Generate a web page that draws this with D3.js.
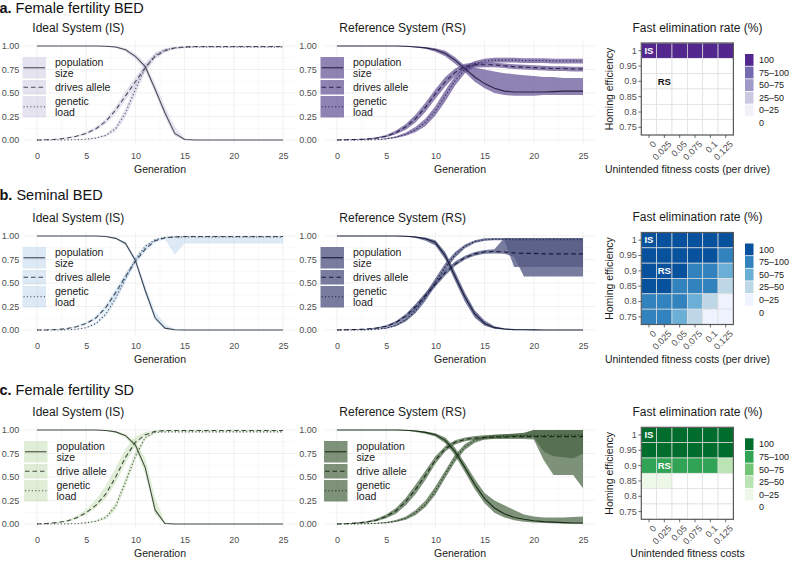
<!DOCTYPE html>
<html><head><meta charset="utf-8">
<script src="https://cdn.jsdelivr.net/npm/d3@7"></script>
<style>
body{margin:0;background:#fff}
svg{display:block}
text{font-family:"Liberation Sans",Arial,Helvetica,sans-serif}
</style>
</head><body>
<svg id="chart" width="794" height="568"></svg>
<script>
// ---------------- DATA ----------------
const generations = [0,1,2,3,4,5,6,7,8,9,10,11,12,13,14,15,16,17,18,19,20,21,22,23,24,25];
const xTicks = [0,5,10,15,20,25];
const yTicks = [0,0.25,0.5,0.75,1];

// a. Female fertility BED - Ideal System
const aIS_pop     = [1,1,1,1,1,1,1,0.998,0.99,0.96,0.89,0.78,0.54,0.29,0.07,0.005,0,0,0,0,0,0,0,0,0,0];
const aIS_pop_lo  = [1,1,1,1,1,1,1,0.995,0.98,0.94,0.86,0.74,0.50,0.24,0.04,0,0,0,0,0,0,0,0,0,0,0];
const aIS_pop_hi  = [1,1,1,1,1,1,1,1,1,0.98,0.92,0.82,0.60,0.36,0.14,0.02,0,0,0,0,0,0,0,0,0,0];
const aIS_drive    = [0,0.003,0.008,0.02,0.04,0.07,0.12,0.2,0.32,0.47,0.62,0.77,0.89,0.95,0.98,0.99,0.995,0.995,0.995,0.995,0.995,0.995,0.995,0.995,0.995,0.995];
const aIS_drive_lo = [0,0,0.004,0.012,0.03,0.055,0.1,0.17,0.28,0.42,0.57,0.73,0.86,0.93,0.965,0.98,0.985,0.985,0.985,0.985,0.985,0.985,0.985,0.985,0.985,0.985];
const aIS_drive_hi = [0,0.006,0.012,0.028,0.05,0.085,0.14,0.23,0.36,0.52,0.67,0.81,0.92,0.97,0.99,0.998,1,1,1,1,1,1,1,1,1,1];
const aIS_load    = [0,0,0,0.001,0.003,0.008,0.02,0.05,0.12,0.29,0.54,0.77,0.9,0.96,0.98,0.985,0.99,0.99,0.99,0.99,0.99,0.99,0.99,0.99,0.99,0.99];
const aIS_load_lo = [0,0,0,0,0.001,0.004,0.013,0.035,0.09,0.24,0.48,0.72,0.87,0.94,0.97,0.978,0.982,0.982,0.982,0.982,0.982,0.982,0.982,0.982,0.982,0.982];
const aIS_load_hi = [0,0,0,0.002,0.005,0.012,0.028,0.065,0.15,0.34,0.6,0.82,0.93,0.975,0.99,0.995,0.997,0.997,0.997,0.997,0.997,0.997,0.997,0.997,0.997,0.997];

// a. Female fertility BED - Reference System
const aRS_pop     = [1,1,1,1,1,1,1,0.998,0.99,0.98,0.96,0.92,0.85,0.76,0.67,0.6,0.55,0.52,0.51,0.51,0.51,0.51,0.515,0.52,0.52,0.52];
const aRS_pop_lo  = [1,1,1,1,1,1,1,0.995,0.985,0.97,0.94,0.89,0.81,0.72,0.62,0.55,0.5,0.48,0.47,0.47,0.47,0.48,0.48,0.48,0.48,0.48];
const aRS_pop_hi  = [1,1,1,1,1,1,1,1,0.995,0.99,0.975,0.95,0.88,0.79,0.77,0.75,0.73,0.71,0.7,0.69,0.68,0.67,0.67,0.66,0.66,0.66];
const aRS_drive    = [0,0.002,0.005,0.01,0.02,0.04,0.08,0.14,0.23,0.35,0.49,0.62,0.72,0.78,0.8,0.8,0.8,0.79,0.78,0.775,0.77,0.765,0.76,0.76,0.755,0.755];
const aRS_drive_lo = [0,0,0.002,0.005,0.012,0.028,0.06,0.11,0.19,0.3,0.44,0.57,0.68,0.75,0.77,0.775,0.775,0.765,0.755,0.75,0.745,0.74,0.735,0.735,0.73,0.73];
const aRS_drive_hi = [0,0.004,0.008,0.015,0.028,0.052,0.1,0.17,0.27,0.4,0.54,0.67,0.76,0.81,0.825,0.825,0.825,0.815,0.805,0.8,0.795,0.79,0.785,0.785,0.78,0.78];
const aRS_load    = [0,0,0,0.001,0.004,0.012,0.03,0.06,0.11,0.19,0.31,0.47,0.63,0.75,0.81,0.84,0.85,0.85,0.85,0.845,0.845,0.845,0.84,0.84,0.84,0.84];
const aRS_load_lo = [0,0,0,0,0.002,0.007,0.02,0.045,0.085,0.15,0.26,0.41,0.58,0.71,0.78,0.815,0.825,0.825,0.825,0.82,0.82,0.82,0.815,0.815,0.815,0.815];
const aRS_load_hi = [0,0,0,0.002,0.006,0.018,0.04,0.08,0.14,0.23,0.36,0.53,0.68,0.79,0.84,0.865,0.875,0.875,0.875,0.87,0.87,0.87,0.865,0.865,0.865,0.865];

// b. Seminal BED - Ideal System
const bIS_pop     = [1,1,1,1,1,1,1,0.995,0.975,0.92,0.74,0.42,0.13,0.02,0.003,0,0,0,0,0,0,0,0,0,0,0];
const bIS_pop_lo  = [1,1,1,1,1,1,1,0.99,0.965,0.9,0.71,0.38,0.1,0.01,0,0,0,0,0,0,0,0,0,0,0,0];
const bIS_pop_hi  = [1,1,1,1,1,1,1,1,0.985,0.94,0.77,0.47,0.2,0.06,0.01,0,0,0,0,0,0,0,0,0,0,0];
const bIS_drive    = [0,0.001,0.005,0.015,0.035,0.07,0.13,0.24,0.4,0.57,0.73,0.86,0.95,0.98,0.99,0.995,0.995,0.995,0.995,0.995,0.995,0.995,0.995,0.995,0.995,0.995];
const bIS_drive_lo = [0,0,0.002,0.01,0.025,0.055,0.11,0.21,0.36,0.53,0.7,0.83,0.93,0.965,0.8,0.92,0.92,0.92,0.92,0.92,0.92,0.92,0.92,0.92,0.92,0.92];
const bIS_drive_hi = [0,0.003,0.008,0.02,0.045,0.085,0.15,0.27,0.44,0.61,0.76,0.88,0.96,0.99,1,1,1,1,1,1,1,1,1,1,1,1];
const bIS_load    = [0,0,0,0.002,0.008,0.025,0.07,0.17,0.34,0.55,0.75,0.89,0.96,0.985,0.99,0.99,0.99,0.99,0.99,0.99,0.99,0.99,0.99,0.99,0.99,0.99];
const bIS_load_lo = [0,0,0,0.001,0.005,0.018,0.055,0.14,0.3,0.51,0.72,0.87,0.95,0.975,0.985,0.985,0.985,0.985,0.985,0.985,0.985,0.985,0.985,0.985,0.985,0.985];
const bIS_load_hi = [0,0,0,0.003,0.011,0.032,0.085,0.2,0.38,0.59,0.78,0.91,0.97,0.99,0.995,0.995,0.995,0.995,0.995,0.995,0.995,0.995,0.995,0.995,0.995,0.995];

// b. Seminal BED - Reference System
const bRS_pop     = [1,1,1,1,1,1,1,0.998,0.99,0.97,0.93,0.79,0.57,0.35,0.17,0.07,0.025,0.01,0.004,0.002,0.001,0,0,0,0,0];
const bRS_pop_lo  = [1,1,1,1,1,1,1,0.995,0.98,0.95,0.9,0.75,0.52,0.3,0.13,0.045,0.012,0.004,0,0,0,0,0,0,0,0];
const bRS_pop_hi  = [1,1,1,1,1,1,1,1,0.995,0.985,0.955,0.83,0.62,0.4,0.21,0.1,0.04,0.018,0.008,0.004,0.002,0.001,0,0,0,0];
const bRS_drive    = [0,0.002,0.005,0.01,0.02,0.04,0.08,0.15,0.25,0.37,0.49,0.61,0.7,0.77,0.81,0.83,0.835,0.83,0.82,0.815,0.815,0.81,0.81,0.81,0.81,0.81];
const bRS_drive_lo = [0,0,0.002,0.006,0.014,0.03,0.065,0.13,0.22,0.34,0.46,0.58,0.68,0.75,0.79,0.81,0.815,0.81,0.78,0.57,0.57,0.57,0.57,0.57,0.57,0.57];
const bRS_drive_hi = [0,0.004,0.008,0.014,0.026,0.05,0.095,0.17,0.28,0.4,0.52,0.64,0.73,0.79,0.83,0.85,0.86,0.98,0.98,0.98,0.98,0.98,0.98,0.98,0.98,0.98];
const bRS_load    = [0,0,0,0.002,0.006,0.02,0.05,0.11,0.21,0.35,0.51,0.67,0.8,0.89,0.94,0.96,0.965,0.965,0.96,0.96,0.96,0.96,0.96,0.96,0.96,0.96];
const bRS_load_lo = [0,0,0,0.001,0.004,0.014,0.04,0.09,0.18,0.31,0.47,0.63,0.77,0.87,0.925,0.95,0.955,0.955,0.67,0.67,0.67,0.67,0.67,0.67,0.67,0.67];
const bRS_load_hi = [0,0,0,0.003,0.008,0.026,0.06,0.13,0.24,0.39,0.55,0.71,0.83,0.91,0.955,0.975,0.98,0.98,0.98,0.98,0.98,0.98,0.98,0.98,0.98,0.98];

// c. Female fertility SD - Ideal System
const cIS_pop     = [1,1,1,1,1,1,1,0.995,0.98,0.94,0.84,0.6,0.15,0.005,0,0,0,0,0,0,0,0,0,0,0,0];
const cIS_pop_lo  = [1,1,1,1,1,1,1,0.99,0.97,0.92,0.8,0.53,0.1,0,0,0,0,0,0,0,0,0,0,0,0,0];
const cIS_pop_hi  = [1,1,1,1,1,1,1,1,0.99,0.96,0.88,0.7,0.28,0.02,0,0,0,0,0,0,0,0,0,0,0,0];
const cIS_drive    = [0,0.005,0.015,0.03,0.065,0.12,0.2,0.32,0.5,0.71,0.87,0.95,0.985,0.995,0.995,0.995,0.995,0.995,0.995,0.995,0.995,0.995,0.995,0.995,0.995,0.995];
const cIS_drive_lo = [0,0.002,0.009,0.022,0.05,0.1,0.17,0.27,0.44,0.65,0.83,0.935,0.978,0.99,0.99,0.99,0.99,0.99,0.99,0.99,0.99,0.99,0.99,0.99,0.99,0.99];
const cIS_drive_hi = [0,0.008,0.02,0.04,0.085,0.155,0.26,0.41,0.6,0.8,0.93,0.98,0.995,1,1,1,1,1,1,1,1,1,1,1,1,1];
const cIS_load    = [0,0,0,0.001,0.004,0.012,0.03,0.07,0.19,0.45,0.72,0.92,0.975,0.98,0.98,0.98,0.98,0.98,0.98,0.98,0.98,0.98,0.98,0.98,0.98,0.98];
const cIS_load_lo = [0,0,0,0,0.002,0.007,0.02,0.05,0.15,0.4,0.68,0.9,0.968,0.975,0.975,0.975,0.975,0.975,0.975,0.975,0.975,0.975,0.975,0.975,0.975,0.975];
const cIS_load_hi = [0,0,0,0.002,0.006,0.018,0.04,0.09,0.23,0.5,0.77,0.94,0.982,0.988,0.988,0.988,0.988,0.988,0.988,0.988,0.988,0.988,0.988,0.988,0.988,0.988];

// c. Female fertility SD - Reference System
const cRS_pop     = [1,1,1,1,1,1,1,0.998,0.99,0.975,0.95,0.89,0.77,0.6,0.42,0.27,0.17,0.11,0.07,0.05,0.035,0.025,0.02,0.015,0.01,0.01];
const cRS_pop_lo  = [1,1,1,1,1,1,1,0.995,0.98,0.96,0.93,0.86,0.73,0.55,0.37,0.22,0.12,0.07,0.04,0.025,0.015,0.01,0.008,0.005,0.003,0.002];
const cRS_pop_hi  = [1,1,1,1,1,1,1,1,0.995,0.985,0.965,0.92,0.81,0.65,0.48,0.33,0.25,0.2,0.15,0.1,0.08,0.07,0.07,0.07,0.075,0.08];
const cRS_drive    = [0,0.003,0.01,0.02,0.04,0.08,0.14,0.24,0.37,0.52,0.68,0.8,0.87,0.9,0.915,0.92,0.925,0.925,0.93,0.93,0.93,0.93,0.93,0.93,0.93,0.93];
const cRS_drive_lo = [0,0,0.005,0.012,0.028,0.06,0.11,0.2,0.32,0.47,0.64,0.77,0.845,0.88,0.895,0.9,0.905,0.905,0.905,0.905,0.9,0.68,0.52,0.52,0.52,0.38];
const cRS_drive_hi = [0,0.006,0.015,0.03,0.055,0.1,0.17,0.28,0.42,0.57,0.72,0.83,0.89,0.92,0.935,0.945,0.95,0.955,0.96,0.97,1,1,1,1,1,1];
const cRS_load    = [0,0,0.001,0.003,0.007,0.015,0.03,0.06,0.12,0.21,0.35,0.53,0.7,0.82,0.89,0.92,0.93,0.935,0.94,0.94,0.94,0.94,0.945,0.945,0.945,0.945];
const cRS_load_lo = [0,0,0,0.001,0.004,0.009,0.02,0.045,0.095,0.18,0.31,0.49,0.66,0.79,0.865,0.9,0.91,0.915,0.92,0.92,0.92,0.77,0.72,0.71,0.7,0.75];
const cRS_load_hi = [0,0,0.002,0.005,0.01,0.022,0.042,0.08,0.15,0.25,0.4,0.57,0.74,0.85,0.91,0.94,0.95,0.955,0.96,0.965,1,1,1,1,1,1];

// Heatmaps: fast elimination rate (%) categories
const fitnessCosts = ["0","0.025","0.05","0.075","0.1","0.125"];
const homingEff = ["1","0.95","0.9","0.85","0.8","0.75"];
const rateLevels = ["100","75\u2013100","50\u201375","25\u201350","0\u201325","0"];
const heatA = [
  ["100","100","100","100","100","100"],
  ["0","0","0","0","0","0"],
  ["0","0","0","0","0","0"],
  ["0","0","0","0","0","0"],
  ["0","0","0","0","0","0"],
  ["0","0","0","0","0","0"]
];
const heatB = [
  ["100","100","100","100","100","100"],
  ["100","100","100","100","100","75\u2013100"],
  ["100","100","100","75\u2013100","75\u2013100","50\u201375"],
  ["100","100","75\u2013100","75\u2013100","75\u2013100","25\u201350"],
  ["75\u2013100","75\u2013100","75\u2013100","50\u201375","25\u201350","0\u201325"],
  ["75\u2013100","75\u2013100","50\u201375","25\u201350","0\u201325","0\u201325"]
];
const heatC = [
  ["100","100","100","100","100","100"],
  ["100","100","100","100","100","100"],
  ["75\u2013100","75\u2013100","75\u2013100","75\u2013100","75\u2013100","25\u201350"],
  ["0\u201325","0\u201325","0","0","0","0"],
  ["0","0","0","0","0","0"],
  ["0","0","0","0","0","0"]
];
const purples = ["#54278f","#756bb1","#9e9ac8","#cbc9e2","#f2f0f7","#ffffff"];
const blues   = ["#08519c","#3182bd","#6baed6","#bdd7e7","#eff3ff","#ffffff"];
const greens  = ["#006d2c","#31a354","#74c476","#bae4b3","#edf8e9","#ffffff"];

// ---------------- DRAWING ----------------
const svg = d3.select("#chart");
const TXT = "#4d4d4d";

function linePanel(cfg){
  const g = svg.append("g");
  const x = d3.scaleLinear().domain([-1.25,26.25]).range(cfg.xr);
  const y = d3.scaleLinear().domain([-0.05,1.05]).range([cfg.y1+94+4.7, cfg.y1-4.7]);
  // grid
  const minorX = [2.5,7.5,12.5,17.5,22.5], minorY=[0.125,0.375,0.625,0.875];
  g.selectAll(".mx").data(minorX).join("line").attr("x1",x).attr("x2",x)
    .attr("y1",y(-0.05)).attr("y2",y(1.05)).attr("stroke","#f0f0f0").attr("stroke-width",0.5);
  g.selectAll(".my").data(minorY).join("line").attr("y1",y).attr("y2",y)
    .attr("x1",x(-1.25)).attr("x2",x(26.25)).attr("stroke","#f0f0f0").attr("stroke-width",0.5);
  g.selectAll(".gx").data(xTicks).join("line").attr("x1",x).attr("x2",x)
    .attr("y1",y(-0.05)).attr("y2",y(1.05)).attr("stroke","#e6e6e6").attr("stroke-width",0.6);
  g.selectAll(".gy").data(yTicks).join("line").attr("y1",y).attr("y2",y)
    .attr("x1",x(-1.25)).attr("x2",x(26.25)).attr("stroke","#e6e6e6").attr("stroke-width",0.6);

  const area = (lo,hi)=>d3.area().x((d,i)=>x(generations[i])).y0((d,i)=>y(lo[i])).y1((d,i)=>y(hi[i]))(lo);
  const line = d3.line().x((d,i)=>x(generations[i])).y(d=>y(d));
  cfg.series.forEach(s=>{
    g.append("path").attr("d",area(s.lo,s.hi)).attr("fill",cfg.fill).attr("fill-opacity",cfg.fillOp);
  });
  cfg.series.forEach(s=>{
    g.append("path").attr("d",line(s.mean)).attr("fill","none").attr("stroke",cfg.lineColor)
      .attr("stroke-width",1.1).attr("stroke-dasharray",s.dash||null);
  });

  // axes
  const ax = g.append("g").attr("transform",`translate(0,${y(-0.05)})`)
    .call(d3.axisBottom(x).tickValues(xTicks).tickSize(0).tickPadding(8));
  ax.select(".domain").remove();
  ax.selectAll("text").attr("font-size",9).attr("fill",TXT).attr("font-family",null);
  const ay = g.append("g").attr("transform",`translate(${x(-1.25)},0)`)
    .call(d3.axisLeft(y).tickValues(yTicks).tickFormat(d3.format(".2f")).tickSize(0).tickPadding(cfg.ypad));
  ay.select(".domain").remove();
  ay.selectAll("text").attr("font-size",9).attr("fill",TXT).attr("font-family",null);

  g.append("text").attr("x",(cfg.xr[0]+cfg.xr[1])/2).attr("y",cfg.y1+127.3).attr("text-anchor","middle")
    .attr("font-size",10.5).attr("fill","#1a1a1a").text("Generation");
  g.append("text").attr("x",cfg.titleX).attr("y",cfg.y1-14).attr("font-size",12).attr("fill","#1a1a1a").text(cfg.title);

  // legend
  let ky = cfg.y1+11;
  const kw = 23.5;
  cfg.series.forEach(s=>{
    const lines = s.name.split("\n");
    const kh = lines.length>1 ? 21.5 : 14.5;
    g.append("rect").attr("x",cfg.legX).attr("y",ky).attr("width",kw).attr("height",kh)
      .attr("fill",cfg.fill).attr("fill-opacity",cfg.fillOp);
    g.append("line").attr("x1",cfg.legX+1).attr("x2",cfg.legX+kw-1).attr("y1",ky+kh/2).attr("y2",ky+kh/2)
      .attr("stroke",cfg.lineColor).attr("stroke-width",1.1).attr("stroke-dasharray",s.dash||null);
    const cy = ky+kh/2;
    lines.forEach((t,i)=>{
      g.append("text").attr("x",cfg.legX+32.5).attr("y",cy+(i-(lines.length-1)/2)*10.5)
        .attr("dy","0.35em").attr("font-size",10.5).attr("fill","#1a1a1a").text(t);
    });
    ky += kh+1.5;
  });
}

function heatPanel(cfg){
  const g = svg.append("g");
  const x = d3.scaleBand().domain(fitnessCosts).range([641.3,733.4]).padding(0);
  const y = d3.scaleBand().domain(homingEff).range([cfg.top,cfg.top+92]).padding(0);
  const col = d3.scaleOrdinal().domain(rateLevels).range(cfg.colors);
  const cells = [];
  cfg.data.forEach((row,ri)=>row.forEach((v,ci)=>cells.push({h:homingEff[ri],c:fitnessCosts[ci],v})));
  g.selectAll("rect.cell").data(cells).join("rect")
    .attr("x",d=>x(d.c)).attr("y",d=>y(d.h)).attr("width",x.bandwidth()).attr("height",y.bandwidth())
    .attr("fill",d=>col(d.v)).attr("stroke","#dedede").attr("stroke-width",0.7);
  g.append("rect").attr("x",641.3).attr("y",cfg.top).attr("width",733.4-641.3).attr("height",92)
    .attr("fill","none").attr("stroke","#595959").attr("stroke-width",1.2);
  // labels IS / RS
  g.append("text").attr("x",x("0")+x.bandwidth()/2).attr("y",y("1")+y.bandwidth()/2).attr("dy","0.35em")
    .attr("text-anchor","middle").attr("font-size",9.5).attr("font-weight","bold").attr("fill","#fff").text("IS");
  g.append("text").attr("x",x("0.025")+x.bandwidth()/2).attr("y",y("0.9")+y.bandwidth()/2).attr("dy","0.35em")
    .attr("text-anchor","middle").attr("font-size",9.5).attr("font-weight","bold").attr("fill",cfg.rsColor).text("RS");
  // axes
  const ay = g.append("g").attr("transform","translate(641.3,0)")
    .call(d3.axisLeft(y).tickSize(3).tickPadding(1.5));
  ay.select(".domain").remove();
  ay.selectAll("line").attr("stroke","#333").attr("stroke-width",0.7);
  ay.selectAll("text").attr("font-size",9).attr("fill",TXT).attr("font-family",null);
  const ax = g.append("g").attr("transform",`translate(0,${cfg.top+92})`)
    .call(d3.axisBottom(x).tickSize(3).tickPadding(0));
  ax.select(".domain").remove();
  ax.selectAll("line").attr("stroke","#333").attr("stroke-width",0.7);
  ax.selectAll("text").attr("font-size",9).attr("fill",TXT).attr("font-family",null)
    .attr("text-anchor","end").attr("y",0).attr("dy","0.75em")
    .attr("transform","translate(3,5) rotate(-45)");
  g.append("text").attr("x",697.5).attr("y",cfg.top-11.3).attr("text-anchor","middle")
    .attr("font-size",12).attr("fill","#1a1a1a").text("Fast elimination rate (%)");
  g.append("text").attr("transform",`translate(613,${cfg.top+46}) rotate(-90)`).attr("text-anchor","middle")
    .attr("font-size",10.5).attr("fill","#1a1a1a").text("Homing efficiency");
  g.append("text").attr("x",687.5).attr("y",cfg.top+130).attr("text-anchor","middle")
    .attr("font-size",10.5).attr("fill","#1a1a1a").text(cfg.xTitle);
  // legend
  rateLevels.forEach((lv,i)=>{
    const ky = cfg.top+11+i*12.6;
    g.append("rect").attr("x",745).attr("y",ky).attr("width",8.5).attr("height",11.8).attr("fill",col(lv));
    g.append("text").attr("x",759).attr("y",ky+5.9).attr("dy","0.35em").attr("font-size",9).attr("fill","#1a1a1a").text(lv);
  });
}

function panelTitle(y, bold, rest){
  const t = svg.append("text").attr("x",-0.5).attr("y",y).attr("font-size",14.5).attr("fill","#111");
  t.append("tspan").attr("font-weight","bold").text(bold);
  t.append("tspan").text(rest);
}

const rows = [
  {y1:46, title:["a.", " Female fertility BED"], hmTop:43,
   IS:{fill:"#beb9d7",fillOp:0.4,lineColor:"#4e4a58"}, RS:{fill:"#5e4e91",fillOp:0.7,lineColor:"#2d2148"},
   legIS:22.5, legRS:320.5, driveName:"drives allele",
   d:{IS:[aIS_pop,aIS_pop_lo,aIS_pop_hi,aIS_drive,aIS_drive_lo,aIS_drive_hi,aIS_load,aIS_load_lo,aIS_load_hi],
      RS:[aRS_pop,aRS_pop_lo,aRS_pop_hi,aRS_drive,aRS_drive_lo,aRS_drive_hi,aRS_load,aRS_load_lo,aRS_load_hi]},
   heat:heatA, colors:purples, rsColor:"#111", xTitle:"Unintended fitness costs (per drive)"},
  {y1:236, title:["b.", " Seminal BED"], hmTop:232.5,
   IS:{fill:"#aac8e6",fillOp:0.4,lineColor:"#3c4554"}, RS:{fill:"#565b86",fillOp:0.8,lineColor:"#171c3a"},
   legIS:22.5, legRS:320.5, driveName:"drives allele",
   d:{IS:[bIS_pop,bIS_pop_lo,bIS_pop_hi,bIS_drive,bIS_drive_lo,bIS_drive_hi,bIS_load,bIS_load_lo,bIS_load_hi],
      RS:[bRS_pop,bRS_pop_lo,bRS_pop_hi,bRS_drive,bRS_drive_lo,bRS_drive_hi,bRS_load,bRS_load_lo,bRS_load_hi]},
   heat:heatB, colors:blues, rsColor:"#fff", xTitle:"Unintended fitness costs (per drive)"},
  {y1:430, title:["c.", " Female fertility SD"], hmTop:427.3,
   IS:{fill:"#b2d49e",fillOp:0.4,lineColor:"#3f4b3f"}, RS:{fill:"#476340",fillOp:0.7,lineColor:"#182c18"},
   legIS:24, legRS:324, driveName:"drive allele",
   d:{IS:[cIS_pop,cIS_pop_lo,cIS_pop_hi,cIS_drive,cIS_drive_lo,cIS_drive_hi,cIS_load,cIS_load_lo,cIS_load_hi],
      RS:[cRS_pop,cRS_pop_lo,cRS_pop_hi,cRS_drive,cRS_drive_lo,cRS_drive_hi,cRS_load,cRS_load_lo,cRS_load_hi]},
   heat:heatC, colors:greens, rsColor:"#fff", xTitle:"Unintended fitness costs"}
];
const titleBase = [12.5, 200, 395];

rows.forEach((r,ri)=>{
  panelTitle(titleBase[ri], r.title[0], r.title[1]);
  ["IS","RS"].forEach(sys=>{
    const a = r.d[sys];
    const series = [
      {name:"population\nsize", mean:a[0], lo:a[1], hi:a[2], dash:null},
      {name:r.driveName, mean:a[3], lo:a[4], hi:a[5], dash:"4.5,3"},
      {name:"genetic\nload", mean:a[6], lo:a[7], hi:a[8], dash:"1.1,2.3"}
    ];
    linePanel({
      y1:r.y1,
      xr: sys==="IS" ? [24.7,295.3] : [324.7,595.3],
      ypad: sys==="IS" ? 5.5 : 8,
      title: sys==="IS" ? "Ideal System (IS)" : "Reference System (RS)",
      titleX: sys==="IS" ? 32.3 : 339.3,
      legX: sys==="IS" ? r.legIS : r.legRS,
      fill:r[sys].fill, fillOp:r[sys].fillOp, lineColor:r[sys].lineColor,
      series
    });
  });
  heatPanel({top:r.hmTop, data:r.heat, colors:r.colors, rsColor:r.rsColor, xTitle:r.xTitle});
});
</script>
</body></html>
